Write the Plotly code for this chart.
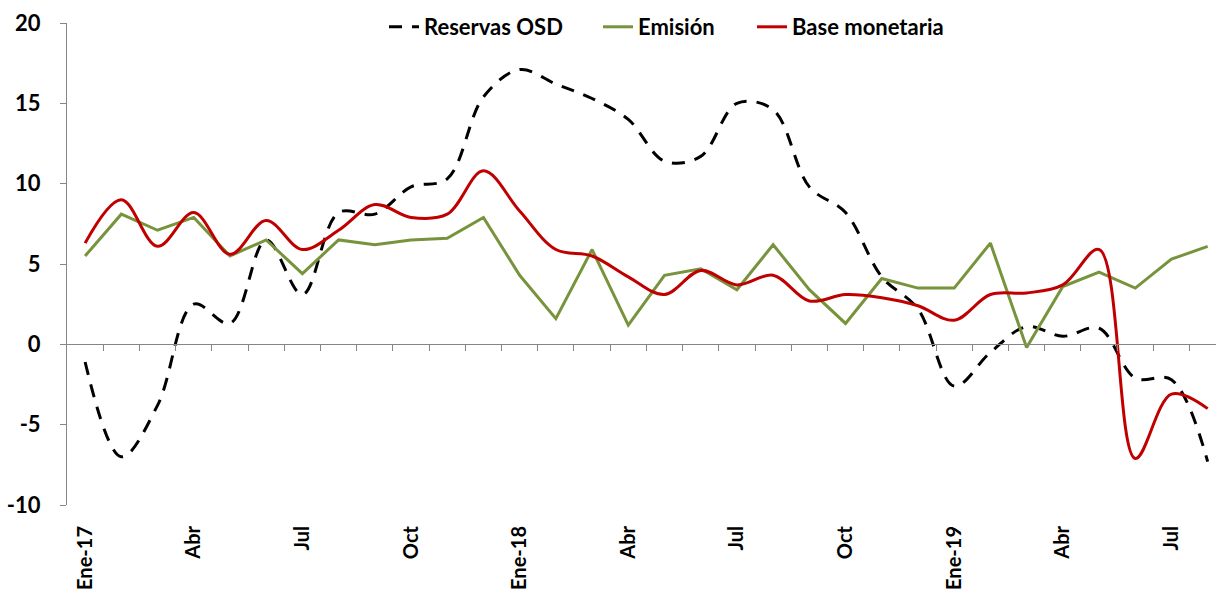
import plotly.graph_objects as go

COLOR_RESERVAS = '#000000'
COLOR_EMISION = '#77933C'
COLOR_BASE = '#C00000'
COLOR_AXIS = '#868686'

# meses Ene-17 ... Ago-19
meses = ['Ene-17', 'Feb', 'Mar', 'Abr', 'May', 'Jun', 'Jul', 'Ago', 'Sep', 'Oct', 'Nov', 'Dic',
         'Ene-18', 'Feb', 'Mar', 'Abr', 'May', 'Jun', 'Jul', 'Ago', 'Sep', 'Oct', 'Nov', 'Dic',
         'Ene-19', 'Feb', 'Mar', 'Abr', 'May', 'Jun', 'Jul', 'Ago']
etiquetas = ['Ene-17', 'Abr', 'Jul', 'Oct', 'Ene-18', 'Abr', 'Jul', 'Oct', 'Ene-19', 'Abr', 'Jul']
y_ticks = [-10, -5, 0, 5, 10, 15, 20]

reservas_osd = [-1.1, -7.0, -3.8, 2.5, 1.3, 6.5, 3.1, 8.2, 8.1, 9.8, 10.3, 15.4,
                17.1, 16.2, 15.3, 14.0, 11.4, 11.7, 15.0, 14.6, 9.8, 8.2, 4.2, 2.2,
                -2.6, -0.5, 1.1, 0.5, 1.0, -2.1, -2.2, -7.3]
emision = [5.5, 8.1, 7.1, 7.9, 5.5, 6.5, 4.4, 6.5, 6.2, 6.5, 6.6, 7.9,
           4.3, 1.6, 5.9, 1.2, 4.3, 4.7, 3.4, 6.2, 3.4, 1.3, 4.1, 3.5,
           3.5, 6.3, -0.2, 3.6, 4.5, 3.5, 5.3, 6.1]
base_monetaria = [6.3, 9.0, 6.1, 8.2, 5.6, 7.7, 5.9, 7.1, 8.7, 7.9, 8.1, 10.8,
                  8.3, 5.9, 5.5, 4.2, 3.1, 4.6, 3.7, 4.3, 2.7, 3.1, 2.9, 2.4,
                  1.5, 3.1, 3.2, 3.7, 5.9, -7.1, -3.1, -4.0]

x = list(range(len(meses)))
x_etiquetas = x[::3]

fig = go.Figure()
fig.add_trace(go.Scatter(
    x=x, y=reservas_osd, name='Reservas OSD', mode='lines', legend='legend',
    line=dict(color=COLOR_RESERVAS, width=3, dash='13px,10px', shape='spline', smoothing=1),
))
fig.add_trace(go.Scatter(
    x=x, y=emision, name='Emisión', mode='lines', legend='legend2',
    line=dict(color=COLOR_EMISION, width=3),
))
fig.add_trace(go.Scatter(
    x=x, y=base_monetaria, name='Base monetaria', mode='lines', legend='legend3',
    line=dict(color=COLOR_BASE, width=3, shape='spline', smoothing=1),
))
# eje auxiliar: linea del cero con marcas entre meses
fig.add_trace(go.Scatter(x=[0], y=[None], xaxis='x2', showlegend=False, hoverinfo='skip'))


def _leyenda(x_px):
    return dict(orientation='h', xref='container', yref='container',
                x=x_px / 1216, xanchor='left', y=1 - 27 / 593, yanchor='middle',
                bgcolor='rgba(0,0,0,0)', borderwidth=0, font=dict(size=22))


x_range = [-0.5, 31.23]
fig.update_layout(
    width=1216, height=593,
    plot_bgcolor='#ffffff', paper_bgcolor='#ffffff',
    font=dict(family='Lato, sans-serif', size=22, color='#000000', weight='bold'),
    margin=dict(l=67, r=0, t=23, b=88, autoexpand=False),
    showlegend=True,
    legend=_leyenda(384),
    legend2=_leyenda(598),
    legend3=_leyenda(752),
    xaxis=dict(
        range=x_range, tickmode='array', tickvals=x_etiquetas, ticktext=etiquetas,
        tickangle=-90, ticks='', showline=False, showgrid=False, zeroline=False,
        ticklabelstandoff=16, tickfont=dict(size=20), automargin=False,
    ),
    xaxis2=dict(
        range=x_range, overlaying='x', anchor='free', position=1 / 3, side='bottom',
        tickmode='array', tickvals=[k + 0.5 for k in x[:-1]], showticklabels=False,
        ticks='outside', ticklen=6, tickcolor=COLOR_AXIS, automargin=False,
        showline=True, linecolor=COLOR_AXIS, linewidth=1, showgrid=False, zeroline=False,
    ),
    yaxis=dict(
        range=[-10, 20], tickmode='array', tickvals=y_ticks,
        ticktext=[str(v) for v in y_ticks],
        ticks='outside', ticklen=6, tickcolor=COLOR_AXIS,
        showline=True, linecolor=COLOR_AXIS, linewidth=1, showgrid=False, zeroline=False,
        ticklabelstandoff=15, automargin=False,
    ),
)

# sin el margen por defecto del <body>
fig.write_html('out.html', config={'displayModeBar': False},
               post_script="document.body.style.margin='0';")
